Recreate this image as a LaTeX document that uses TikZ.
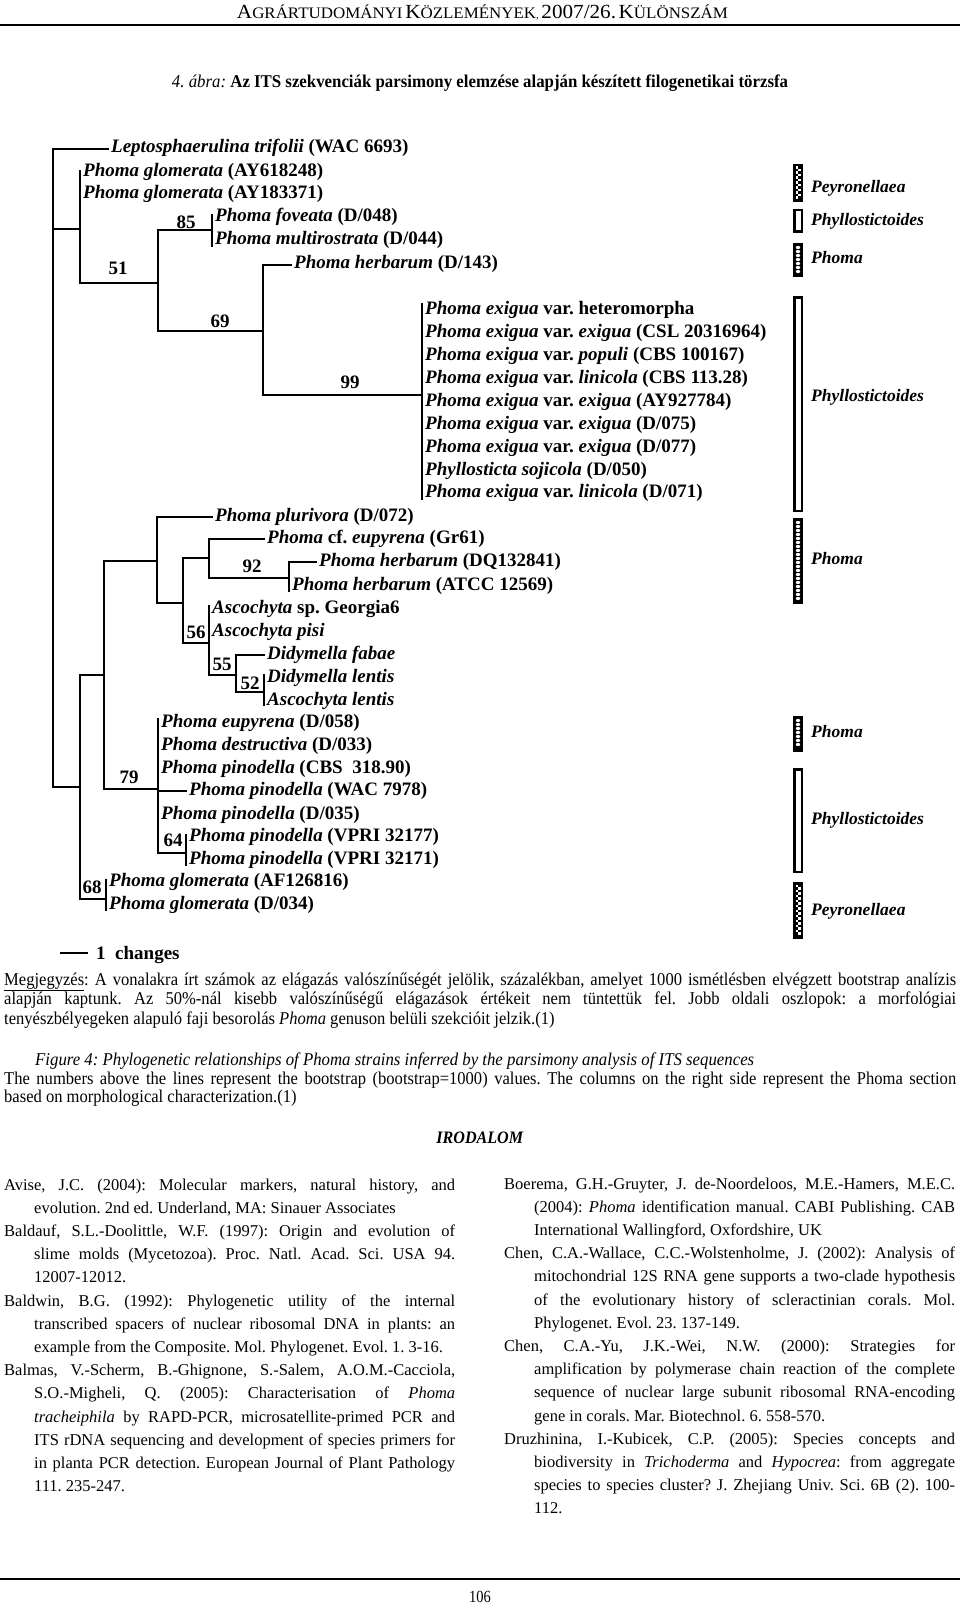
\documentclass[tikz,border=0pt]{standalone}
\usepackage{fontspec}
\usepackage{graphicx}
\setmainfont{Liberation Serif}
\newfontfamily\condfont[FakeStretch=0.92]{Liberation Serif}
\newfontfamily\hfont[FakeStretch=0.85]{Liberation Serif}
\newcommand\treefont{\fontsize{19}{20}\selectfont\bfseries}
\newcommand\secfont{\fontsize{17.5}{20}\selectfont\bfseries\itshape}
\newcommand\reffont{\fontsize{16.5}{23.2}\selectfont}
\newcommand\notefont{\condfont\fontsize{18}{20.5}\selectfont}
\newcommand\SCap[2]{{\fontsize{20}{20}\selectfont #1}{\fontsize{16}{16}\selectfont #2}}
\newcommand\JB[2]{\makebox[#1][s]{#2}}
\newcommand\RL[4]{\node[ln] (#1) at (#2,#3) {#4};}
\newcommand\barpey[2]{%
  \fill[black] (793,#1) rectangle (803,#2);
  \pgfmathtruncatemacro\nsq{(#2-#1-5)/2.5-1}
  \foreach \k in {0,...,\nsq}{
    \pgfmathsetmacro\yy{#1+2.5+\k*2.5}
    \pgfmathsetmacro\xx{795.5+mod(\k,2)*2.5}
    \fill[white] (\xx,\yy) rectangle ++(2.5,2.5);
  }}
\newcommand\barpho[2]{%
  \fill[black] (793,#1) rectangle (803,#2);
  \pgfmathtruncatemacro\nci{(#2-#1-9)/4}
  \foreach \k in {0,...,\nci}{
    \pgfmathsetmacro\yy{#1+4.5+\k*4}
    \fill[white] (798,\yy) ellipse (2.2pt and 1.6pt);
  }}
\newcommand\barphy[2]{%
  \fill[black] (793,#1) rectangle (803,#2);
  \fill[white] (795.5,#1+2.5) rectangle (800.5,#2-2.5);}
\tikzset{
  br/.style={line width=2.3pt, line cap=rect},
  lf/.style={anchor=west, inner xsep=3pt, inner ysep=0pt, text height=12pt, text depth=4pt, font=\treefont},
  bs/.style={anchor=center, inner sep=0pt, font=\treefont},
  sec/.style={anchor=west, inner sep=0pt, font=\secfont},
  ln/.style={anchor=base west, inner sep=0pt, font=\reffont},
  nl/.style={anchor=base west, inner sep=0pt, font=\notefont},
  rule/.style={line width=1.8pt},
}
\begin{document}
\frenchspacing
\begin{tikzpicture}[x=1pt,y=-1pt]
\useasboundingbox (0,0) rectangle (960,1605);
\fill[white] (0,0) rectangle (960,1605);

% header
\node[anchor=base, inner sep=0pt] (hdr) at (482.5,19) {\resizebox{491pt}{\height}{\hfont\SCap{A}{GRÁRTUDOMÁNYI} \SCap{K}{ÖZLEMÉNYEK}, {\fontsize{20}{20}\selectfont 2007/26.} \SCap{K}{ÜLÖNSZÁM}}};
\coordinate (hl1) at (0,25);
\coordinate (hl2) at (960,25);
\draw[rule] (hl1) -- (hl2);
\node[anchor=base, inner sep=0pt] (title) at (480,88) {\resizebox{616pt}{\height}{\hfont\fontsize{18}{18}\selectfont\textit{4. ábra:} \textbf{Az ITS szekvenciák parsimony elemzése alapján készített filogenetikai törzsfa}}};

% ---------- tree leaves ----------
\node[lf] (lep) at (108,149) {\textit{Leptosphaerulina trifolii} (WAC 6693)};
\node[lf] (gl1) at (80,173) {\textit{Phoma glomerata} (AY618248)};
\node[lf] (gl2) at (80,195) {\textit{Phoma glomerata} (AY183371)};
\node[lf] (fov) at (212,218) {\textit{Phoma foveata} (D/048)};
\node[lf] (mul) at (212,241) {\textit{Phoma multirostrata} (D/044)};
\node[lf] (hb1) at (291,265) {\textit{Phoma herbarum} (D/143)};
\node[lf] (ex1) at (422,310) {\textit{Phoma exigua} var. heteromorpha};
\node[lf] (ex2) at (422,333) {\textit{Phoma exigua} var. \textit{exigua} (CSL 20316964)};
\node[lf] (ex3) at (422,356) {\textit{Phoma exigua} var. \textit{populi} (CBS 100167)};
\node[lf] (ex4) at (422,379) {\textit{Phoma exigua} var. \textit{linicola} (CBS 113.28)};
\node[lf] (ex5) at (422,402) {\textit{Phoma exigua} var. \textit{exigua} (AY927784)};
\node[lf] (ex6) at (422,425) {\textit{Phoma exigua} var. \textit{exigua} (D/075)};
\node[lf] (ex7) at (422,448) {\textit{Phoma exigua} var. \textit{exigua} (D/077)};
\node[lf] (ex8) at (422,471) {\textit{Phyllosticta sojicola} (D/050)};
\node[lf] (ex9) at (422,493) {\textit{Phoma exigua} var. \textit{linicola} (D/071)};
\node[lf] (plu) at (212,517) {\textit{Phoma plurivora} (D/072)};
\node[lf] (gr61) at (264,539) {\textit{Phoma} cf. \textit{eupyrena} (Gr61)};
\node[lf] (dq) at (316,562) {\textit{Phoma herbarum} (DQ132841)};
\node[lf] (atcc) at (289,586) {\textit{Phoma herbarum} (ATCC 12569)};
\node[lf] (geo) at (209,609) {\textit{Ascochyta} sp. Georgia6};
\node[lf] (pisi) at (209,632) {\textit{Ascochyta pisi}};
\node[lf] (fab) at (264,655) {\textit{Didymella fabae}};
\node[lf] (dle) at (264,678) {\textit{Didymella lentis}};
\node[lf] (ale) at (264,701) {\textit{Ascochyta lentis}};
\node[lf] (eup) at (158,723) {\textit{Phoma eupyrena} (D/058)};
\node[lf] (des) at (158,746) {\textit{Phoma destructiva} (D/033)};
\node[lf] (cbs) at (158,769) {\textit{Phoma pinodella} (CBS\ \ 318.90)};
\node[lf] (wac) at (186,791) {\textit{Phoma pinodella} (WAC 7978)};
\node[lf] (d35) at (158,815) {\textit{Phoma pinodella} (D/035)};
\node[lf] (vp1) at (186,837) {\textit{Phoma pinodella} (VPRI 32177)};
\node[lf] (vp2) at (186,860) {\textit{Phoma pinodella} (VPRI 32171)};
\node[lf] (af) at (106,882) {\textit{Phoma glomerata} (AF126816)};
\node[lf] (d34) at (106,905) {\textit{Phoma glomerata} (D/034)};

% ---------- internal nodes ----------
\coordinate (R) at (53,149);
\coordinate (Rb) at (53,787);
\coordinate (A) at (80,229);
\coordinate (B) at (158,283);
\coordinate (C) at (212,230);
\coordinate (D) at (263,331);
\coordinate (E) at (422,395);
\coordinate (Nl) at (80,787);
\coordinate (P104) at (104,675);
\coordinate (P106) at (106,899);
\coordinate (P157) at (157,561);
\coordinate (P158) at (158,789);
\coordinate (P183) at (183,603);
\coordinate (P209a) at (209,558);
\coordinate (P209b) at (209,643);
\coordinate (P289) at (289,578);
\coordinate (P236) at (236,675);
\coordinate (P264) at (264,692);
\coordinate (P186) at (186,853);

% upper part
\draw[br] (R) -- (Rb);
\draw[br] (R) -- (lep.west);
\draw[br] (R|-A) -- (A);
\draw[br] ([yshift=2pt]gl1.west) -- (A|-B) -- (B);
\draw[br] (C) -- (B|-C) -- (B|-D) -- (D);
\draw[br] ([yshift=3pt]fov.west) -- ([yshift=-5pt]mul.west);
\draw[br] (hb1.west) -- (D|-hb1.west) -- (D|-E) -- (E);
\draw[br] ([yshift=6pt]ex1.west) -- ([yshift=-6pt]ex9.west);

% lower part
\draw[br] (Rb) -- (Nl);
\draw[br] (Nl|-P104) -- (Nl|-P106);
\draw[br] (Nl|-P104) -- (P104);
\draw[br] (Nl|-P106) -- (P106);
\draw[br] (P104|-P157) -- (P104|-P158);
\draw[br] (P104|-P157) -- (P157);
\draw[br] (P104|-P158) -- (P158);
\draw[br] (plu.west) -- (P157|-plu.west) -- (P157|-P183) -- (P183);
\draw[br] (P183|-P209a) -- (P183|-P209b);
\draw[br] (P183|-P209a) -- (P209a);
\draw[br] (P183|-P209b) -- (P209b);
\draw[br] (gr61.west) -- (P209a|-gr61.west) -- (P209a|-P289) -- (P289);
\draw[br] (dq.west) -- (P289|-dq.west) -- ([yshift=-5pt]atcc.west);
\draw[br] ([yshift=3pt]geo.west) -- (P209b|-P236) -- (P236);
\draw[br] (fab.west) -- (P236|-fab.west) -- (P236|-P264) -- (P264);
\draw[br] ([yshift=3pt]dle.west) -- ([yshift=-4pt]ale.west);
\draw[br] ([yshift=4pt]eup.west) -- (P158|-P186) -- (P186);
\draw[br] (P158|-wac.west) -- (wac.west);
\draw[br] ([yshift=2pt]vp1.west) -- ([yshift=-5pt]vp2.west);
\draw[br] ([yshift=2pt]af.west) -- ([yshift=-5pt]d34.west);

% bootstrap values
\node[bs] (b51) at (118,268) {51};
\node[bs] (b85) at (186,222) {85};
\node[bs] (b69) at (220,321) {69};
\node[bs] (b99) at (350,382) {99};
\node[bs] (b92) at (252,566) {92};
\node[bs] (b56) at (196,632) {56};
\node[bs] (b55) at (222,664) {55};
\node[bs] (b52) at (250,683) {52};
\node[bs] (b79) at (129,777) {79};
\node[bs] (b64) at (173,840) {64};
\node[bs] (b68) at (92,887) {68};

% scale bar
\coordinate (s1) at (60,953);
\coordinate (s2) at (88,953);
\draw[line width=2.3pt] (s1) -- (s2);
\node[anchor=west, inner sep=0pt, font=\treefont] (scl) at (96,955) {1\ \ changes};

% section bars
\barpey{164}{202}
\barphy{209}{233}
\barpho{243}{277}
\barphy{296}{512}
\barpho{518}{604}
\barpho{716}{752}
\barphy{768}{873}
\barpey{882}{939}
\node[sec] (s_pey1) at (811,188) {Peyronellaea};
\node[sec] (s_phy1) at (811,221) {Phyllostictoides};
\node[sec] (s_pho1) at (811,258) {Phoma};
\node[sec] (s_phy2) at (811,397) {Phyllostictoides};
\node[sec] (s_pho2) at (811,559) {Phoma};
\node[sec] (s_pho3) at (811,732) {Phoma};
\node[sec] (s_phy3) at (811,820) {Phyllostictoides};
\node[sec] (s_pey2) at (811,911) {Peyronellaea};

% notes
\node[nl] (n1) at (4,985) {\JB{952pt}{\underline{Megjegyzés}: A vonalakra írt számok az elágazás valószínűségét jelölik, százalékban, amelyet 1000 ismétlésben elvégzett bootstrap analízis}};
\node[nl] (n2) at (4,1004.5) {\JB{952pt}{alapján kaptunk. Az 50\%-nál kisebb valószínűségű elágazások értékeit nem tüntettük fel. Jobb oldali oszlopok: a morfológiai}};
\node[nl] (n3) at (4,1024) {tenyészbélyegeken alapuló faji besorolás \textit{Phoma} genuson belüli szekcióit jelzik.(1)};
\node[nl] (c1) at (35,1065) {\resizebox{719pt}{\height}{\textit{Figure 4: Phylogenetic relationships of Phoma strains inferred by the parsimony analysis of ITS sequences}}};
\node[nl] (c2) at (4,1084) {\JB{952pt}{The numbers above the lines represent the bootstrap (bootstrap=1000) values. The columns on the right side represent the Phoma section}};
\node[nl] (c3) at (4,1102.5) {based on morphological characterization.(1)};
\node[anchor=base, inner sep=0pt, font=\notefont\fontsize{17.5}{20}\selectfont] (irod) at (480,1143) {\textbf{\textit{IRODALOM}}};

% references, left column
\RL{l1}{4}{1190}{\JB{451pt}{Avise, J.C. (2004): Molecular markers, natural history, and}}
\RL{l2}{34}{1213.2}{evolution. 2nd ed. Underland, MA: Sinauer Associates}
\RL{l3}{4}{1236.4}{\JB{451pt}{Baldauf, S.L.-Doolittle, W.F. (1997): Origin and evolution of}}
\RL{l4}{34}{1259.6}{\JB{421pt}{slime molds (Mycetozoa). Proc. Natl. Acad. Sci. USA 94.}}
\RL{l5}{34}{1282.8}{12007-12012.}
\RL{l6}{4}{1306}{\JB{451pt}{Baldwin, B.G. (1992): Phylogenetic utility of the internal}}
\RL{l7}{34}{1329.2}{\JB{421pt}{transcribed spacers of nuclear ribosomal DNA in plants: an}}
\RL{l8}{34}{1352.4}{example from the Composite. Mol. Phylogenet. Evol. 1. 3-16.}
\RL{l9}{4}{1375.6}{\JB{451pt}{Balmas, V.-Scherm, B.-Ghignone, S.-Salem, A.O.M.-Cacciola,}}
\RL{l10}{34}{1398.8}{\JB{421pt}{S.O.-Migheli, Q. (2005): Characterisation of \textit{Phoma}}}
\RL{l11}{34}{1422}{\JB{421pt}{\textit{tracheiphila} by RAPD-PCR, microsatellite-primed PCR and}}
\RL{l12}{34}{1445.2}{\JB{421pt}{ITS rDNA sequencing and development of species primers for}}
\RL{l13}{34}{1468.4}{\JB{421pt}{in planta PCR detection. European Journal of Plant Pathology}}
\RL{l14}{34}{1491.6}{111. 235-247.}

% references, right column
\RL{r1}{504}{1189}{\JB{451pt}{Boerema, G.H.-Gruyter, J. de-Noordeloos, M.E.-Hamers, M.E.C.}}
\RL{r2}{534}{1212.2}{\JB{421pt}{(2004): \textit{Phoma} identification manual. CABI Publishing. CAB}}
\RL{r3}{534}{1235.4}{International Wallingford, Oxfordshire, UK}
\RL{r4}{504}{1258.6}{\JB{451pt}{Chen, C.A.-Wallace, C.C.-Wolstenholme, J. (2002): Analysis of}}
\RL{r5}{534}{1281.8}{\JB{421pt}{mitochondrial 12S RNA gene supports a two-clade hypothesis}}
\RL{r6}{534}{1305}{\JB{421pt}{of the evolutionary history of scleractinian corals. Mol.}}
\RL{r7}{534}{1328.2}{Phylogenet. Evol. 23. 137-149.}
\RL{r8}{504}{1351.4}{\JB{451pt}{Chen, C.A.-Yu, J.K.-Wei, N.W. (2000): Strategies for}}
\RL{r9}{534}{1374.6}{\JB{421pt}{amplification by polymerase chain reaction of the complete}}
\RL{r10}{534}{1397.8}{\JB{421pt}{sequence of nuclear large subunit ribosomal RNA-encoding}}
\RL{r11}{534}{1421}{gene in corals. Mar. Biotechnol. 6. 558-570.}
\RL{r12}{504}{1444.2}{\JB{451pt}{Druzhinina, I.-Kubicek, C.P. (2005): Species concepts and}}
\RL{r13}{534}{1467.4}{\JB{421pt}{biodiversity in \textit{Trichoderma} and \textit{Hypocrea}: from aggregate}}
\RL{r14}{534}{1490.6}{\JB{421pt}{species to species cluster? J. Zhejiang Univ. Sci. 6B (2). 100-}}
\RL{r15}{534}{1513.8}{112.}

% footer
\coordinate (fl1) at (0,1579);
\coordinate (fl2) at (960,1579);
\draw[rule] (fl1) -- (fl2);
\node[anchor=base, inner sep=0pt, font=\hfont\fontsize{17}{17}\selectfont] (pg) at (480,1602) {106};
\end{tikzpicture}
\end{document}
